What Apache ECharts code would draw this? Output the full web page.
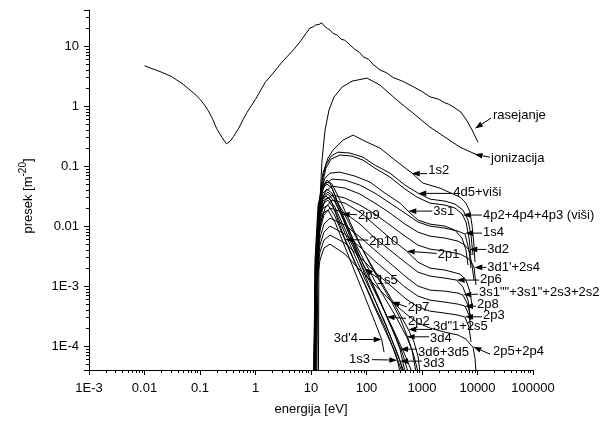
<!DOCTYPE html>
<html><head><meta charset="utf-8">
<script src="https://cdn.jsdelivr.net/npm/echarts@6/dist/echarts.min.js"></script>
<style>html,body{margin:0;padding:0;background:#fff}#c{width:606px;height:423px}</style>
</head><body><div id="c"></div>
<script>
// ---- axis ticks ----
const X_TICKS = [0.001,0.01,0.1,1,10,100,1000,10000,100000];
const X_TICK_LABELS = ['1E-3','0.01','0.1','1','10','100','1000','10000','100000'];
const Y_TICKS = [1e-4,1e-3,0.01,0.1,1,10];
const Y_TICK_LABELS = ['1E-4','1E-3','0.01','0.1','1','10'];
const X_MIN = 0.001, X_MAX = 100000, Y_MIN = 4e-5, Y_MAX = 40;
const MINOR_MULT = [2,3,4,5,6,7,8,9];
const X_DECADES = [0.001,0.01,0.1,1,10,100,1000,10000];
const Y_DECADES = [1e-5,1e-4,1e-3,0.01,0.1,1,10];

// ---- series values [energy eV, cross section 1e-20 m^2] ----
const rasejanje = [[0.01,4.7],[0.02,3.7],[0.031,3.1],[0.05,2.3],[0.08,1.6],[0.1,1.3],[0.12,1.05],[0.13,1.02],[0.14,0.85],[0.17,0.6],[0.2,0.42],[0.25,0.3],[0.3,0.235],[0.35,0.26],[0.4,0.31],[0.5,0.43],[0.6,0.6],[0.7,0.78],[1.0,1.3],[1.5,2.5],[2,3.4],[3,5.4],[5,9.0],[6.3,11.7],[8,16],[9.6,20],[11,21],[12,22.5],[13,21.5],[14,23],[15.6,24.5],[17,22],[20,19.5],[22,18.5],[25,16.3],[30,15.2],[35,13],[40,12.6],[44,11.8],[60,9],[75,7.8],[88,6.6],[110,6.0],[130,5],[175,4.0],[230,3.6],[300,3.0],[450,2.6],[700,2.1],[1000,1.75],[1390,1.43],[2000,1.3],[2500,1.15],[3000,1.08],[3670,0.97],[5000,0.8],[6380,0.58],[8000,0.4],[10200,0.25]];
const jonizacija = [[13.4,1e-6],[13.9,0.00398],[14.5,0.0271],[15.8,0.126],[17.9,0.398],[21.1,0.858],[25.9,1.41],[36.2,2.07],[54.8,2.61],[102,2.93],[175,2.24],[355,1.26],[689,0.764],[1390,0.447],[2590,0.304],[4840,0.207],[8300,0.165],[10200,0.153]];
const s1s2 = [[12.3,1e-6],[13.4,0.00398],[14.5,0.0271],[16.4,0.0764],[20.2,0.136],[24.9,0.185],[37.7,0.271],[57.1,0.329],[102,0.251],[175,0.2],[326,0.126],[661,0.0764],[1042,0.0521],[2109,0.043],[4842,0.0304],[6209,0.0242],[7328,0.0171],[7962,0.0104],[8650,0.00482],[9016,0.00251]];
const s4d5 = [[11.8,1e-6],[12.8,0.00271],[13.9,0.0185],[15.8,0.0584],[18.6,0.104],[22.9,0.147],[30.6,0.171],[50.5,0.165],[86.5,0.141],[142,0.104],[265,0.0764],[494,0.0482],[847,0.0355],[1393,0.0282],[2594,0.0261],[3936,0.0233],[5483,0.0185],[6745,0.0126],[7638,0.00708],[8299,0.00329]];
const s4p2 = [[11.8,1e-6],[12.8,0.00224],[13.9,0.0153],[15.8,0.0482],[18.6,0.0926],[22.9,0.131],[33.3,0.153],[54.8,0.147],[86.5,0.126],[142,0.0926],[265,0.0656],[494,0.0414],[813,0.0304],[1393,0.0242],[2594,0.0224],[3936,0.02],[5260,0.0159],[6209,0.0117],[7031,0.00631],[7638,0.00329]];
const s3s1 = [[11.33,1e-6],[12.3,0.00271],[13.4,0.0153],[15.1,0.0398],[17.9,0.0631],[22.0,0.0764],[33.3,0.0794],[62.1,0.0681],[116,0.0541],[215,0.0355],[402,0.0242],[560,0.0178],[847,0.0126],[1393,0.0108],[2594,0.01],[3936,0.00858],[5260,0.00631],[6209,0.00398],[6745,0.00224]];
const s1s4 = [[11.33,1e-6],[12.3,0.00224],[13.4,0.0117],[15.1,0.0316],[17.9,0.0501],[23.9,0.0607],[41.0,0.0584],[76.4,0.0482],[142,0.0355],[265,0.0242],[494,0.0165],[847,0.0117],[1393,0.01],[2594,0.00926],[4456,0.00825],[5954,0.00736],[7031,0.00398],[7638,0.001995]];
const s3d2 = [[11.33,1e-6],[12.3,0.00185],[13.4,0.00858],[15.1,0.0224],[17.9,0.0369],[23.9,0.0464],[41.0,0.043],[76.4,0.0342],[142,0.0242],[265,0.0165],[494,0.0108],[847,0.00794],[1393,0.00681],[2594,0.00631],[4456,0.00562],[5954,0.00482],[7031,0.00398],[7962,0.00224],[8650,0.00126]];
const s3d1p = [[11.33,1e-6],[12.3,0.00153],[13.4,0.00631],[15.1,0.0165],[17.9,0.0271],[24.9,0.0329],[41.0,0.0293],[76.4,0.0224],[142,0.0159],[265,0.0104],[494,0.00681],[847,0.00482],[1393,0.00414],[2594,0.00383],[4842,0.00342],[6745,0.00293],[7962,0.00242],[8650,0.00207],[9397,0.00104]];
const s2p1 = [[11.33,1e-6],[12.3,0.00126],[13.4,0.00482],[15.1,0.0117],[17.9,0.02],[23.9,0.0271],[41.0,0.0242],[76.4,0.0171],[142,0.0104],[265,0.00631],[530,0.00383],[847,0.00251],[1393,0.001995],[2594,0.00185],[4842,0.00159],[6209,0.00126],[7328,0.000794],[7962,0.000482]];
const s2p6 = [[10.86,1e-6],[11.8,0.000858],[12.8,0.00329],[14.5,0.00858],[17.1,0.0153],[22.0,0.02],[41.0,0.0165],[76.4,0.0108],[142,0.00631],[265,0.00398],[494,0.00251],[847,0.00171],[1393,0.00147],[2594,0.00136],[4217,0.00126],[5483,0.000962],[6745,0.000584],[7328,0.000329]];
const s3s1q = [[10.86,1e-6],[11.8,0.000708],[12.8,0.00251],[14.5,0.00631],[17.1,0.0108],[22.0,0.0136],[41.0,0.0104],[76.4,0.00656],[142,0.00398],[265,0.00242],[494,0.00147],[847,0.001],[1393,0.000858],[2594,0.000825],[4456,0.000764],[5483,0.000708],[6745,0.000482],[7638,0.000271]];
const s2p8 = [[10.86,1e-6],[11.8,0.000584],[12.8,0.001995],[14.5,0.00482],[17.1,0.00794],[22.0,0.01],[41.0,0.00736],[76.4,0.00447],[142,0.00261],[265,0.00159],[494,0.000962],[847,0.000681],[1393,0.000584],[2594,0.000541],[4456,0.000501],[5954,0.000464],[7031,0.000329],[7638,0.000185]];
const s2p3 = [[10.86,1e-6],[11.8,0.000482],[12.8,0.00153],[14.5,0.00369],[17.1,0.00584],[22.0,0.00708],[41.0,0.00521],[76.4,0.00304],[142,0.00171],[265,0.00104],[494,0.000631],[847,0.000447],[1393,0.000383],[2594,0.000355],[4456,0.000329],[5954,0.000304],[7031,0.000207],[7638,0.000117]];
const s2p5 = [[10.86,1e-6],[11.8,0.000398],[12.8,0.00117],[14.5,0.00271],[17.1,0.0043],[22.0,0.00501],[41.0,0.00342],[76.4,0.00185],[142,0.00104],[265,0.000584],[494,0.000355],[847,0.000242],[1393,0.0002],[2594,0.000171],[4456,0.000153],[6209,0.000131],[7638,0.000104],[8299,0.0000962],[9016,0.0000631],[9397,0.0000369]];
const s2p9 = [[10.86,1e-6],[11.8,0.00271],[13.4,0.0224],[15.8,0.043],[18.6,0.0541],[22.0,0.0521],[27.0,0.0329],[35.7,0.0159],[50.5,0.00681],[76.4,0.00251],[116,0.000926],[175,0.000369],[265,0.000153],[370,0.0000708],[474,0.0000369]];
const s2p10 = [[10.86,1e-6],[11.8,0.00185],[13.4,0.0153],[15.8,0.0271],[18.6,0.0316],[22.9,0.0271],[30.6,0.0126],[41.0,0.00607],[62.1,0.00251],[94.0,0.00104],[142,0.00043],[215,0.000185],[326,0.0000794],[437,0.0000369]];
const s1s5 = [[11.33,1e-6],[12.3,0.00224],[13.9,0.0224],[16.4,0.043],[19.4,0.0501],[23.9,0.043],[33.3,0.02],[50.5,0.00794],[70.3,0.00369],[94.0,0.001995],[142,0.000858],[215,0.000369],[326,0.000165],[494,0.0000708],[661,0.0000369]];
const s2p7 = [[11.33,1e-6],[12.3,0.00251],[13.9,0.0242],[16.4,0.0482],[19.4,0.0584],[23.9,0.0501],[33.3,0.0271],[50.5,0.0117],[76.4,0.00501],[116,0.00233],[175,0.00117],[284,0.000541],[402,0.000293],[560,0.000136],[718,0.0000681],[847,0.0000369]];
const s2p2 = [[11.33,1e-6],[12.3,0.00185],[13.9,0.0185],[16.4,0.0355],[19.4,0.0414],[23.9,0.0355],[33.3,0.0171],[50.5,0.00681],[76.4,0.00293],[116,0.00136],[175,0.000584],[231,0.000308],[326,0.000153],[437,0.0000794],[560,0.0000369]];
const s3d1pp = [[11.33,1e-6],[12.3,0.00185],[13.9,0.0171],[16.4,0.0316],[20.2,0.0369],[27.0,0.0293],[41.0,0.0153],[62.1,0.00708],[94.0,0.00342],[142,0.00178],[215,0.000926],[326,0.000482],[566,0.00019],[718,0.000117],[847,0.0000681],[920,0.0000369]];
const s3d4 = [[11.33,1e-6],[12.3,0.00171],[13.9,0.0153],[16.4,0.0293],[20.2,0.0342],[27.0,0.0251],[41.0,0.0117],[62.1,0.00521],[94.0,0.00251],[142,0.00121],[215,0.000631],[326,0.000329],[530,0.000143],[661,0.0000858],[780,0.0000369]];
const s3d6 = [[11.33,1e-6],[12.3,0.00153],[13.9,0.0136],[16.4,0.0261],[20.2,0.0304],[27.0,0.0207],[41.0,0.00891],[62.1,0.00383],[94.0,0.00171],[142,0.000794],[215,0.000369],[300,0.000178],[402,0.0000891],[494,0.0000369]];
const s3d3 = [[11.33,1e-6],[12.3,0.00136],[13.9,0.0126],[16.4,0.0233],[20.2,0.0271],[27.0,0.0185],[41.0,0.00764],[62.1,0.00316],[94.0,0.00131],[142,0.000584],[215,0.000251],[300,0.000112],[402,0.0000562],[455,0.0000369]];
const s1s3 = [[11.33,1e-6],[12.3,0.00126],[13.9,0.0104],[16.4,0.02],[20.2,0.0224],[27.0,0.0147],[41.0,0.00584],[62.1,0.00242],[94.0,0.00108],[142,0.000464],[215,0.000207],[288,0.000104],[359,0.0000584],[402,0.0000369]];
const s3d4p = [[11.33,1e-6],[12.3,0.00104],[13.9,0.00858],[16.4,0.0165],[20.2,0.0185],[27.0,0.0117],[41.0,0.00447],[62.1,0.00171],[94.0,0.000656],[142,0.000251],[188,0.000129],[207,0.0000794]];

const CURVES = [rasejanje, jonizacija, s1s2, s4d5, s4p2, s3s1, s1s4, s3d2, s3d1p, s2p1, s2p6, s3s1q, s2p8, s2p3, s2p5,
  s2p9, s2p10, s1s5, s2p7, s2p2, s3d1pp, s3d4, s3d6, s3d3, s1s3, s3d4p];

// ---- annotations: label text, arrow tip (data coords) ----
const ANN_TEXT = ['rasejanje','jonizacija','1s2','4d5+viši','3s1','4p2+4p4+4p3 (viši)','1s4','3d2','2p1',"3d1'+2s4",'2p6','3s1""+3s1"+2s3+2s2','2p8','2p3','2p5+2p4','3d"1+2s5','2p2','2p7','3d4','3d6+3d5','3d3','1s3',"3d'4",'1s5','2p10','2p9'];
const ANN_TIP = [[9020,0.422],[8830,0.158],[653,0.075],[857,0.0351],[566,0.0178],[5410,0.0153],[5960,0.00764],[7120,0.00409],[530,0.00383],[8750,0.00205],[4220,0.00126],[5550,0.000716],[5960,0.000464],[5960,0.000308],[8410,0.0000973],[566,0.00019],[231,0.000308],[284,0.000547],[530,0.000143],[402,0.0000891],[402,0.0000562],[359,0.0000584],[188,0.000129],[94,0.00197],[41,0.006],[35.7,0.0158]];
// layout: arrow tail offset from tip (px), label offset from tail (px) and alignment
const ANN_TAIL = [[16,-10.5],[15.5,3],[15.5,0],[34,0],[24,0],[19.3,0],[17,0],[17,0],[30,2.3],[12,0],[22.3,0],[14.7,-0.7],[11,0],[17,0],[16.7,7.3],[23.7,0],[19.3,1.6],[15,5],[22.3,0],[17,0],[22,0],[-25.3,-0.5],[-22.7,0],[11.7,9],[23.3,0.7],[15.3,0.5]];
const ANN_LABEL = [[2,-3,'left'],[1,1,'left'],[1,-3,'left'],[1,-0.6,'left'],[1,0,'left'],[1,0,'left'],[1,-0.7,'left'],[1,0,'left'],[1,1,'left'],[1,0,'left'],[1,-1,'left'],[1,-1.7,'left'],[1,-2,'left'],[1,-1.7,'left'],[3,-2.3,'left'],[1,-2.6,'left'],[2,3.4,'left'],[1,0.6,'left'],[1,1.6,'left'],[1,3.7,'left'],[1,2.3,'left'],[-2,-0.5,'right'],[-1,-0.7,'right'],[0,2.7,'left'],[1,1.7,'left'],[1,0.5,'left']];

const FONT = 'Liberation Sans, Arial, sans-serif';
function labelFor(ticks, labels) {
  return function (v) {
    const i = ticks.findIndex(t => Math.abs(Math.log10(t) - Math.log10(v)) < 1e-6);
    return i >= 0 ? labels[i] : '';
  };
}
const xMinor = [], yMinor = [];
X_DECADES.forEach(d => MINOR_MULT.forEach(m => xMinor.push(d * m)));
Y_DECADES.forEach(d => MINOR_MULT.forEach(m => { const v = d * m; if (v > Y_MIN * 1.0001 && v < Y_MAX * 0.9999) yMinor.push(v); }));

const series = CURVES.map(c => ({
  type: 'line', data: c, symbol: 'none', showSymbol: false, silent: true, clip: true,
  lineStyle: { color: '#000', width: 1 }, z: 2
}));
series.push({
  type: 'custom', silent: true, clip: false, z: 6,
  data: ANN_TIP.map(t => [t[0], t[1]]),
  renderItem: (params, api) => {
    const i = params.dataIndex;
    const tip = api.coord([api.value(0), api.value(1)]);
    const tail = [tip[0] + ANN_TAIL[i][0], tip[1] + ANN_TAIL[i][1]];
    const dx = tip[0] - tail[0], dy = tip[1] - tail[1];
    const len = Math.hypot(dx, dy) || 1, ux = dx / len, uy = dy / len;
    const L = 8, W = 2.8;
    const base = [tip[0] - ux * L, tip[1] - uy * L];
    const p1 = [base[0] - uy * W, base[1] + ux * W], p2 = [base[0] + uy * W, base[1] - ux * W];
    const lab = ANN_LABEL[i];
    return { type: 'group', children: [
      { type: 'line', shape: { x1: tail[0], y1: tail[1], x2: base[0], y2: base[1] }, style: { stroke: '#000', lineWidth: 1 } },
      { type: 'polygon', shape: { points: [tip, p1, p2] }, style: { fill: '#000' } },
      { type: 'text', x: tail[0] + lab[0], y: tail[1] + lab[1], style: { text: ANN_TEXT[i], fill: '#000', fontSize: 13, fontFamily: FONT, align: lab[2], verticalAlign: 'middle' } }
    ]};
  }
});

const chart = echarts.init(document.getElementById('c'), null, { renderer: 'canvas' });
chart.setOption({
  animation: false,
  backgroundColor: '#fff',
  grid: { left: 89, right: 73, top: 10, bottom: 53, containLabel: false },
  xAxis: {
    type: 'log', logBase: 10, min: X_MIN, max: X_MAX, splitNumber: 8,
    name: 'energija [eV]', nameLocation: 'middle', nameGap: 33,
    nameTextStyle: { color: '#000', fontSize: 13, fontFamily: FONT },
    axisLine: { lineStyle: { color: '#000', width: 1 } },
    axisTick: { length: 5, lineStyle: { color: '#000', width: 1 } },
    axisLabel: { color: '#000', fontSize: 13, fontFamily: FONT, margin: 12, formatter: labelFor(X_TICKS, X_TICK_LABELS) },
    splitLine: { show: false }, minorTick: { show: false }
  },
  yAxis: {
    type: 'log', logBase: 10, min: Y_MIN, max: Y_MAX, splitNumber: 6,
    name: '{a|presek [m}{s|-20}{a|]}', nameLocation: 'middle', nameGap: 54, nameRotate: 90,
    nameTextStyle: { color: '#000', fontSize: 13, fontFamily: FONT, padding: [0, 12, 0, 0],
      rich: { a: { fontSize: 13, fontFamily: FONT, color: '#000', lineHeight: 17, verticalAlign: 'bottom' },
              s: { fontSize: 10, fontFamily: FONT, color: '#000', lineHeight: 10, verticalAlign: 'top' } } },
    axisLine: { lineStyle: { color: '#000', width: 1 } },
    axisTick: { length: 5, lineStyle: { color: '#000', width: 1 } },
    axisLabel: { color: '#000', fontSize: 13, fontFamily: FONT, margin: 10, formatter: labelFor(Y_TICKS, Y_TICK_LABELS) },
    splitLine: { show: false }, minorTick: { show: false }
  },
  series: series
});

// log-spaced minor ticks, positioned through the chart's own axes
const xb = chart.convertToPixel({ yAxisIndex: 0 }, Y_MIN);
const yl = chart.convertToPixel({ xAxisIndex: 0 }, X_MIN);
const tickEls = [];
xMinor.forEach(v => {
  const x = Math.round(chart.convertToPixel({ xAxisIndex: 0 }, v)) + 0.5;
  tickEls.push({ type: 'line', silent: true, shape: { x1: x, y1: Math.round(xb), x2: x, y2: Math.round(xb) + 3 }, style: { stroke: '#000', lineWidth: 1 } });
});
yMinor.forEach(v => {
  const y = Math.round(chart.convertToPixel({ yAxisIndex: 0 }, v)) + 0.5;
  tickEls.push({ type: 'line', silent: true, shape: { x1: Math.round(yl), y1: y, x2: Math.round(yl) - 3, y2: y }, style: { stroke: '#000', lineWidth: 1 } });
});
chart.setOption({ graphic: [{ type: 'group', silent: true, children: tickEls }] });
</script></body></html>
